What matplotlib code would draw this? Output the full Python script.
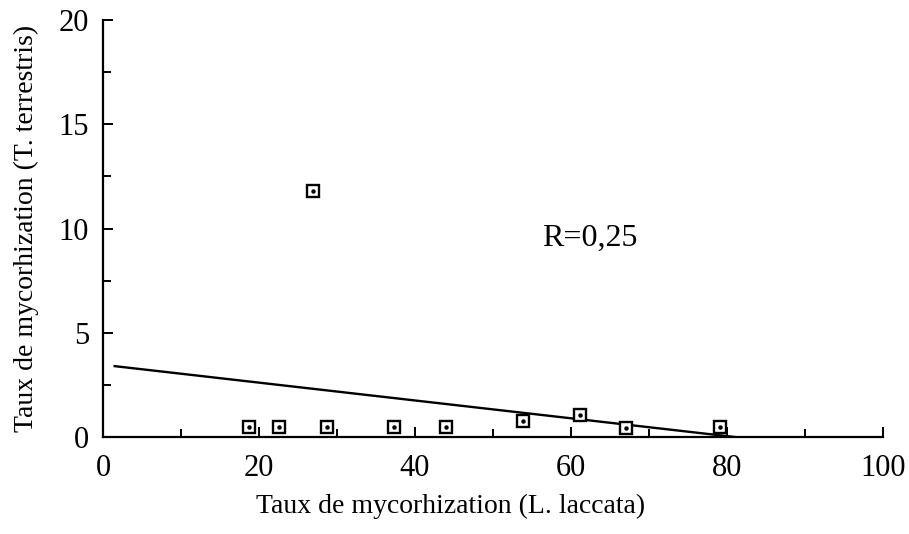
import matplotlib.pyplot as plt
import numpy as np

# mycorrhization rates (%) per plant
laccata = [18.7, 22.6, 26.9, 28.7, 37.3, 44.0, 53.8, 61.2, 67.0, 79.1]
terrestris = [0.5, 0.5, 11.8, 0.5, 0.5, 0.5, 0.75, 1.05, 0.45, 0.5]

# regression line endpoints
fit_x = [1.5, 81.0]
fit_y = [3.4, 0.0]
r_label = "R=0,25"

plt.rcParams['font.family'] = ['Liberation Serif', 'DejaVu Serif']

fig = plt.figure(figsize=(9.09, 5.34), dpi=100)
ax = fig.add_axes([0.1133, 0.1816, 0.8581, 0.7809])

ax.plot(fit_x, fit_y, color='black', lw=1.7, zorder=2)
ax.plot(laccata, terrestris, ls='none', marker='s', ms=9, mfc='white',
        mec='black', mew=1.7, zorder=3)
ax.plot(laccata, terrestris, ls='none', marker='o', ms=2.2, color='black', zorder=4)

ax.text(56.3, 9.55, r_label, fontsize=23, ha='left', va='center')

ax.set_xlim(0, 100)
ax.set_ylim(0, 20)
ax.set_xticks(np.arange(0, 101, 20))
ax.set_xticks(np.arange(10, 100, 20), minor=True)
ax.set_yticks(np.arange(0, 21, 5))
ax.set_yticks(np.arange(2.5, 20, 5), minor=True)

for side in ['top', 'right']:
    ax.spines[side].set_visible(False)
for side in ['left', 'bottom']:
    ax.spines[side].set_linewidth(1.6)

ax.tick_params(which='major', direction='in', length=7, width=1.4,
               labelsize=22, pad=10)
ax.tick_params(axis='x', which='major', pad=12)
ax.tick_params(which='minor', direction='in', length=6, width=1.4)

ax.set_xlabel("Taux de mycorhization (L. laccata)", fontsize=20)
ax.xaxis.set_label_coords(0.445, -0.137)
ax.set_ylabel("Taux de mycorhization (T. terrestris)", fontsize=20)
ax.yaxis.set_label_coords(-0.082, 0.5)

fig.savefig("out.png", dpi=100)
